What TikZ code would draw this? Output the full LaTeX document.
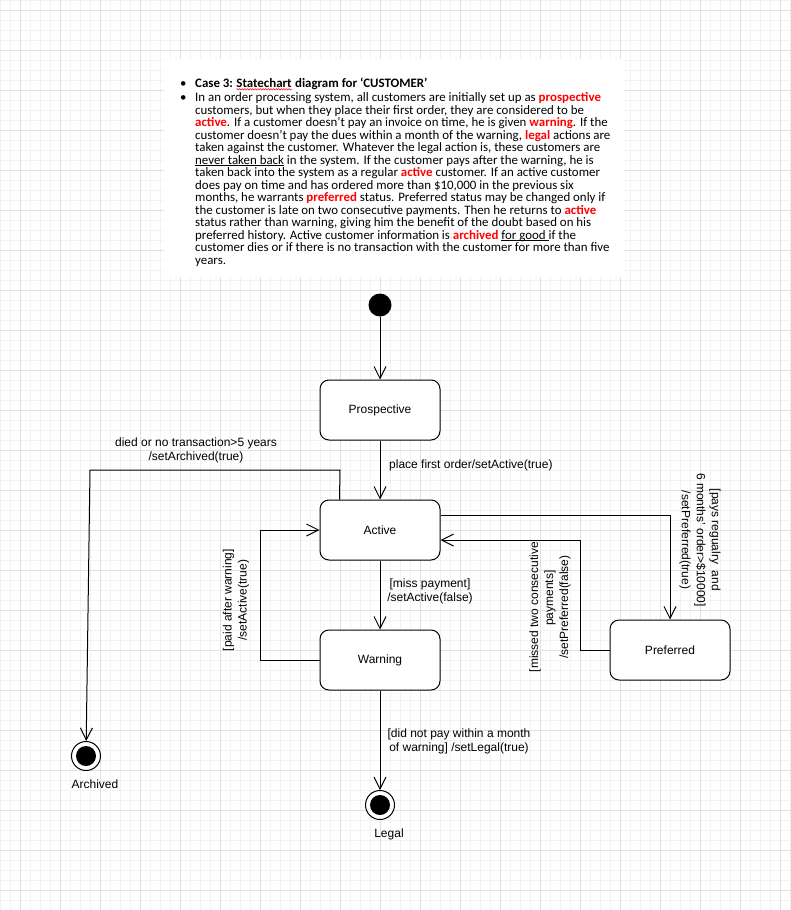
\documentclass[tikz,border=0pt]{standalone}
\usepackage{fontspec}
\setmainfont{Liberation Sans}
\newfontfamily\bodyfont{Carlito}
\usetikzlibrary{arrows.meta,decorations.pathmorphing}
\newcommand\redw[1]{\textcolor{red}{\textbf{#1}}}
\newcommand\ulw[1]{\underline{\smash{#1}}}
\definecolor{gridminor}{HTML}{F2F2F2}
\definecolor{gridmajor}{HTML}{E0E0E0}
\begin{document}
\begin{tikzpicture}[x=1pt,y=-1pt,
  txt/.style={anchor=base west, inner sep=0pt, font=\bodyfont\fontsize{12.9}{12.5}\selectfont},
  statebox/.style={draw=black, fill=white, line width=1pt, rounded corners=9pt,
    minimum width=120pt, minimum height=60pt, font=\fontsize{12}{14}\selectfont},
  initst/.style={circle, fill=black, minimum size=23pt, inner sep=0pt},
  finalst/.style={circle, draw=black, fill=white, line width=1pt, minimum size=29pt, inner sep=0pt,
    path picture={\fill[black] (path picture bounding box.center) circle (10);}},
  lbl/.style={inner sep=0pt, align=center, font=\fontsize{12}{14}\selectfont},
  rlbl/.style={inner sep=0pt, align=center, font=\fontsize{12}{15}\selectfont},
  arr/.style={draw=black, line width=1pt, -{Straight Barb[length=12pt,width=12pt,line width=1pt]}},
  link/.style={draw=black, line width=1pt}]
\useasboundingbox (0,0) rectangle (791,910);
\fill[white] (0,0) rectangle (791,910);
% background grid
\foreach \x in {0,10,...,790} \draw[gridminor, line width=0.8pt] (\x,0) -- (\x,910);
\foreach \y in {0,10,...,910} \draw[gridminor, line width=0.8pt] (0,\y) -- (791,\y);
\foreach \x in {20,60,...,780} \draw[gridmajor, line width=0.8pt] (\x,0) -- (\x,910);
\foreach \y in {10,50,...,890} \draw[gridmajor, line width=0.8pt] (0,\y) -- (791,\y);

% case description
\fill[white] (164,59) rectangle (624,277);
\node[txt] (b1) at (180,87.3) {•};
\node[txt] (b2) at (180,101.5) {•};
\node[txt] (t1a) at (195,87.3) {\textbf{Case 3:}};
\node[txt] (t1b) at ([xshift=3pt]t1a.base east) {\textbf{Statechart}};
\node[txt] (t1c) at ([xshift=3pt]t1b.base east) {\textbf{diagram for ‘CUSTOMER’}};
\draw[red, line width=0.5pt, decorate, decoration={snake, amplitude=0.7pt, segment length=2.6pt}]
  ([yshift=-2pt]t1b.base west) -- ([yshift=-2pt]t1b.base east);
\node[txt] (l2) at (195,101.5) {In an order processing system, all customers are initially set up as \redw{prospective}};
\node[txt] (l3) at (195,114) {customers, but when they place their first order, they are considered to be};
\node[txt] (l4) at (195,126.5) {\redw{active}. If a customer doesn’t pay an invoice on time, he is given \redw{warning}. If the};
\node[txt] (l5) at (195,139) {customer doesn’t pay the dues within a month of the warning, \redw{legal} actions are};
\node[txt] (l6) at (195,151.5) {taken against the customer. Whatever the legal action is, these customers are};
\node[txt] (l7) at (195,164) {\ulw{never taken back} in the system. If the customer pays after the warning, he is};
\node[txt] (l8) at (195,176.5) {taken back into the system as a regular \redw{active} customer. If an active customer};
\node[txt] (l9) at (195,189) {does pay on time and has ordered more than \$10,000 in the previous six};
\node[txt] (l10) at (195,201.5) {months, he warrants \redw{preferred} status. Preferred status may be changed only if};
\node[txt] (l11) at (195,214) {the customer is late on two consecutive payments. Then he returns to \redw{active}};
\node[txt] (l12) at (195,226.5) {status rather than warning, giving him the benefit of the doubt based on his};
\node[txt] (l13) at (195,239) {preferred history. Active customer information is \redw{archived} \ulw{for good\ }if the};
\node[txt] (l14) at (195,251.5) {customer dies or if there is no transaction with the customer for more than five};
\node[txt] (l15) at (195,264) {years.};

% states
\node[initst] (init) at (380,305) {};
\node[statebox] (pros) at (380,410) {Prospective};
\node[statebox] (act) at (380,530) {Active};
\node[statebox] (warn) at (380,660) {Warning};
\node[statebox] (pref) at (670,650) {Preferred};
\node[finalst] (arch) at (86,756) {};
\node[finalst] (legal) at (380,805) {};
\node[lbl] (archlbl) at (95,784) {Archived};
\node[lbl] (legallbl) at (389,834) {Legal};

% waypoints
\coordinate (wArchA) at (340,470);
\coordinate (wArchB) at (90,470);
\coordinate (wPaidA) at (260,660);
\coordinate (wPaidB) at (260,530);
\coordinate (wPrefA) at (580,650);
\coordinate (wPrefB) at (580,540);

% transitions
\draw[arr] (init) -- (pros);
\draw[arr] (pros) -- (act);
\node[lbl, anchor=west] (lblFirst) at (389,465) {place first order/setActive(true)};

\draw[arr] ([xshift=20pt]act.north west) -- (wArchA) -- (wArchB) -- (arch);
\node[lbl] (lblArch) at (196,450) {died or no transaction>5 years\\/setArchived(true)};

\draw[arr] (act) -- (warn);
\node[lbl] (lblMiss) at (430,591) {[miss payment]\\/setActive(false)};

\draw[arr] (warn.west) -- (wPaidA) -- (wPaidB) -- (act.west);
\node[rlbl, rotate=90] (lblPaid) at (236,600) {[paid after warning]\\/setActive(true)};

\draw[arr] ([yshift=15pt]act.east) -| (pref.north);
\node[rlbl, rotate=-90] (lblPays) at (700,540) {[pays regualry\ \ and\\6 months' order>\$10000]\\/setPreferred(true)};

\draw[arr] (pref.west) -- (wPrefA) -- (wPrefB) -- ([yshift=-10pt]act.east);
\node[rlbl, rotate=90] (lblMissed) at (550,607) {[missed two consecutive\\\hspace*{18pt}payments]\\/setPreferred(false)};

\draw[arr] (warn) -- (legal);
\node[lbl] (lblLegal) at (459,741) {[did not pay within a month\\ of warning] /setLegal(true)};
\end{tikzpicture}
\end{document}
